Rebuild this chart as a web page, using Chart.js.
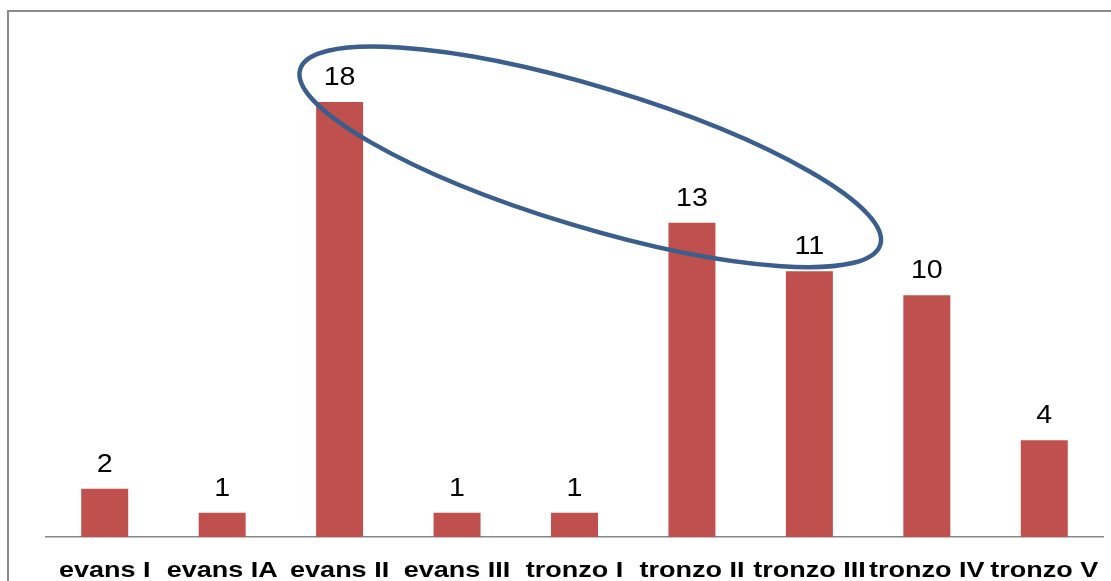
<!DOCTYPE html>
<html>
<head>
<meta charset="utf-8">
<script src="https://cdn.jsdelivr.net/npm/chart.js@4.4.0/dist/chart.umd.min.js"></script>
<style>
  html, body { margin: 0; padding: 0; background: #ffffff; overflow: hidden; width: 1111px; height: 581px; }
  #frame { position: absolute; left: 7px; top: 10px; width: 1200px; height: 700px; border: 2px solid #8c8c8c; box-sizing: border-box; }
  #wrap { position: absolute; left: 0; top: 0; width: 1111px; height: 581px; }
</style>
</head>
<body>
<div id="frame"></div>
<div id="wrap"><canvas id="chart" width="1111" height="581"></canvas></div>
<script>
// Categories and counts
const categories = ['evans I', 'evans IA', 'evans II', 'evans III', 'tronzo I', 'tronzo II', 'tronzo III', 'tronzo IV', 'tronzo V'];
const counts = [2, 1, 18, 1, 1, 13, 11, 10, 4];

// Highlight ring: ends of the long axis in data units (category index, value)
const ringStart = { x: 1.664, y: 19.35 };
const ringEnd = { x: 6.604, y: 12.1 };

const FONT = '"Liberation Sans", Arial, sans-serif';

// Draws text widened horizontally by `stretch`, centred on x
function wideText(ctx, text, x, y, stretch) {
  ctx.save();
  ctx.translate(x, y);
  ctx.scale(stretch, 1);
  ctx.fillText(text, 0, 0);
  ctx.restore();
}

// Value labels above each bar
const valueLabels = {
  id: 'valueLabels',
  afterDatasetsDraw(chart) {
    const ctx = chart.ctx;
    const meta = chart.getDatasetMeta(0);
    ctx.save();
    ctx.font = '26px ' + FONT;
    ctx.fillStyle = '#000000';
    ctx.textAlign = 'center';
    ctx.textBaseline = 'alphabetic';
    meta.data.forEach((bar, i) => {
      wideText(ctx, String(counts[i]), bar.x, bar.y - 17, 1.1);
    });
    ctx.restore();
  }
};

// Category names under the axis, placed at the x scale's tick positions
const categoryLabels = {
  id: 'categoryLabels',
  afterDraw(chart) {
    const xs = chart.scales.x;
    const ctx = chart.ctx;
    ctx.save();
    ctx.font = 'bold 22.5px ' + FONT;
    ctx.fillStyle = '#000000';
    ctx.textAlign = 'center';
    ctx.textBaseline = 'alphabetic';
    xs.ticks.forEach((t, i) => {
      wideText(ctx, xs.getLabelForValue(t.value), xs.getPixelForTick(i), xs.top + 40, 1.2);
    });
    ctx.restore();
  }
};

// Rotated ellipse around the highlighted bars
const highlightRing = {
  id: 'highlightRing',
  afterDraw(chart, args, opts) {
    const xs = chart.scales.x, ys = chart.scales.y;
    const x1 = xs.getPixelForValue(opts.start.x), y1 = ys.getPixelForValue(opts.start.y);
    const x2 = xs.getPixelForValue(opts.end.x), y2 = ys.getPixelForValue(opts.end.y);
    const cx = (x1 + x2) / 2, cy = (y1 + y2) / 2;
    const a = Math.hypot(x2 - x1, y2 - y1) / 2;
    const rot = Math.atan2(y2 - y1, x2 - x1);
    const ctx = chart.ctx;
    ctx.save();
    ctx.beginPath();
    ctx.ellipse(cx, cy, a, opts.minorRadius, rot, 0, Math.PI * 2);
    ctx.lineWidth = opts.lineWidth;
    ctx.strokeStyle = opts.color;
    ctx.stroke();
    ctx.restore();
  }
};

new Chart(document.getElementById('chart'), {
  type: 'bar',
  data: {
    labels: categories,
    datasets: [{
      data: counts,
      backgroundColor: '#c0504d',
      borderWidth: 0,
      barPercentage: 0.4,
      categoryPercentage: 1.0
    }]
  },
  options: {
    responsive: false,
    animation: false,
    layout: { padding: { left: 46, right: 8, top: 53.6, bottom: 44 } },
    plugins: {
      legend: { display: false },
      tooltip: { enabled: false },
      highlightRing: { start: ringStart, end: ringEnd, minorRadius: 70, lineWidth: 4.5, color: '#3b5e8c' }
    },
    scales: {
      x: {
        grid: { display: false, drawTicks: false },
        border: { display: true, color: '#888888', width: 1.5 },
        ticks: { display: false }
      },
      y: {
        display: false,
        min: 0,
        max: 20
      }
    }
  },
  plugins: [valueLabels, categoryLabels, highlightRing]
});
</script>
</body>
</html>
